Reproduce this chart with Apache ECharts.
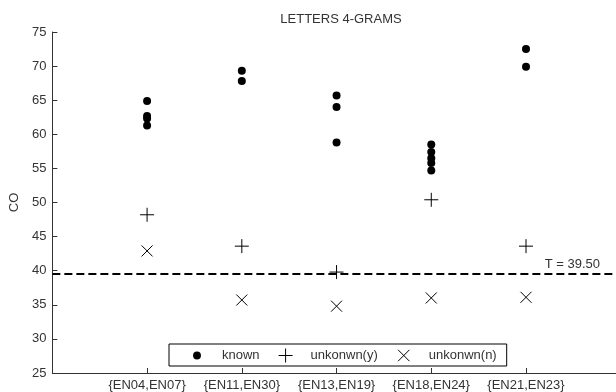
<!DOCTYPE html>
<html>
<head>
<meta charset="utf-8">
<script src="https://cdn.jsdelivr.net/npm/echarts@6/dist/echarts.min.js"></script>
<style>
  html, body { margin: 0; padding: 0; background: #fff; }
  #chart { width: 616px; height: 392px; }
</style>
</head>
<body>
<div id="chart"></div>
<script>
// data
const categories = ['{EN04,EN07}', '{EN11,EN30}', '{EN13,EN19}', '{EN18,EN24}', '{EN21,EN23}'];
const knownValues = [
  [64.9, 62.7, 62.3, 61.3],
  [69.3, 67.8],
  [65.7, 64.0, 58.8],
  [58.5, 57.4, 56.5, 55.8, 54.7],
  [72.5, 69.9]
];
const unknownYes = [48.2, 43.6, 39.8, 50.4, 43.6];
const unknownNo = [42.9, 35.7, 34.8, 36.0, 36.1];
const threshold = 39.5;
const thresholdLabel = 'T = 39.50';
const seriesNames = ['known', 'unkonwn(y)', 'unkonwn(n)'];

const font = "'Liberation Sans', Arial, sans-serif";
const textColor = '#333';

// symbols (16x16 frame, the extra moveTo keeps the frame for legend icons)
const dotIcon = 'path://M0,0M16,16M3.5,8A4.5,4.5,0,1,1,12.5,8A4.5,4.5,0,1,1,3.5,8Z';
const plusSymbol = 'path://M8,0L8,16M0,8L16,8';
const crossSymbol = 'path://M0,0L16,16M16,0L0,16';
const crossIcon = 'path://M0,0M16,16M1.5,1.5L14.5,14.5M14.5,1.5L1.5,14.5';

const knownData = [];
knownValues.forEach((vals, i) => {
  vals.forEach(v => knownData.push([i + 1, v]));
});
const yesData = unknownYes.map((v, i) => [i + 1, v]);
const noData = unknownNo.map((v, i) => [i + 1, v]);
const catPos = categories.map((c, i) => i + 1);

const myChart = echarts.init(document.getElementById('chart'));

const option = {
  animation: false,
  backgroundColor: '#fff',
  textStyle: { fontFamily: font },
  title: {
    text: 'LETTERS 4-GRAMS',
    left: 336,
    textAlign: 'center',
    top: 8,
    textStyle: { fontFamily: font, fontSize: 13, fontWeight: 'normal', color: textColor }
  },
  grid: { left: 51, right: 0, top: 32, bottom: 19 },
  legend: {
    left: 169,
    top: 344,
    orient: 'horizontal',
    itemWidth: 40,
    itemHeight: 14,
    itemGap: 16.5,
    padding: [2, 10, 1, 21],
    borderColor: '#000',
    borderWidth: 1,
    backgroundColor: '#fff',
    textStyle: { fontFamily: font, fontSize: 13, color: textColor },
    data: [
      { name: seriesNames[0], icon: dotIcon, itemStyle: { color: '#000', borderWidth: 0 } },
      { name: seriesNames[1], icon: plusSymbol, itemStyle: { color: 'none', borderColor: '#000', borderWidth: 1 } },
      { name: seriesNames[2], icon: crossIcon, itemStyle: { color: 'none', borderColor: '#000', borderWidth: 1 } }
    ]
  },
  xAxis: {
    type: 'value',
    min: 0,
    max: 5.95,
    splitLine: { show: false },
    axisLine: { show: true, onZero: false, lineStyle: { color: '#333', width: 1 } },
    axisTick: { show: true, inside: true, length: 5, customValues: catPos, lineStyle: { color: '#333' } },
    axisLabel: {
      customValues: catPos,
      margin: 6,
      fontFamily: font,
      fontSize: 13,
      color: textColor,
      formatter: v => categories[Math.round(v) - 1] || ''
    }
  },
  yAxis: {
    type: 'value',
    min: 25,
    max: 75,
    interval: 5,
    name: 'CO',
    nameLocation: 'middle',
    nameRotate: 90,
    nameGap: 24,
    nameTextStyle: { fontFamily: font, fontSize: 13, color: textColor },
    splitLine: { show: false },
    axisLine: { show: true, onZero: false, lineStyle: { color: '#333', width: 1 } },
    axisTick: { show: true, inside: true, length: 5, lineStyle: { color: '#333' } },
    axisLabel: { margin: 6, fontFamily: font, fontSize: 13, color: textColor }
  },
  series: [
    {
      name: seriesNames[0],
      type: 'scatter',
      symbol: 'circle',
      symbolSize: 8,
      itemStyle: { color: '#000', opacity: 1 },
      data: knownData,
      markLine: {
        silent: true,
        symbol: 'none',
        lineStyle: { color: '#000', type: [8, 4], width: 2 },
        label: {
          show: true,
          position: 'insideEndTop',
          formatter: thresholdLabel,
          distance: [16, 3],
          fontFamily: font,
          fontSize: 13,
          color: textColor
        },
        data: [{ yAxis: threshold }]
      }
    },
    {
      name: seriesNames[1],
      type: 'scatter',
      symbol: plusSymbol,
      symbolSize: 14,
      itemStyle: { color: 'none', borderColor: '#000', borderWidth: 1, opacity: 1 },
      data: yesData
    },
    {
      name: seriesNames[2],
      type: 'scatter',
      symbol: crossSymbol,
      symbolSize: 11,
      itemStyle: { color: 'none', borderColor: '#000', borderWidth: 1, opacity: 1 },
      data: noData
    }
  ]
};

myChart.setOption(option);
</script>
</body>
</html>
